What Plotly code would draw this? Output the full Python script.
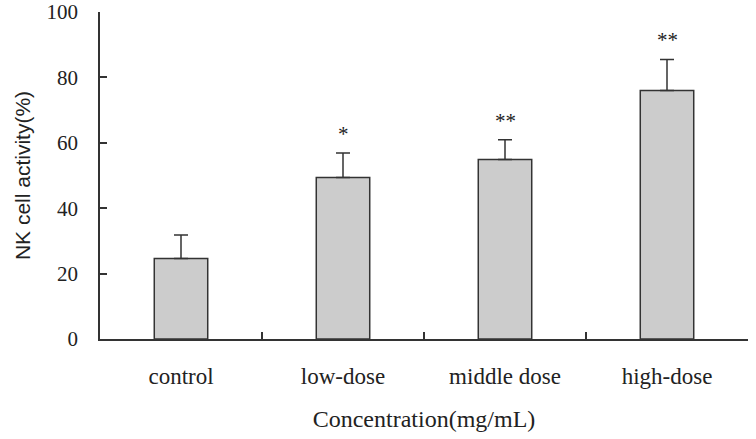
import plotly.graph_objects as go

categories = ["control", "low-dose", "middle dose", "high-dose"]
values = [24.6, 49.4, 54.9, 76.0]
errors = [7.2, 7.5, 6.0, 9.5]
stars = ["", "*", "**", "**"]
y_ticks = [0, 20, 40, 60, 80, 100]

serif = "Liberation Serif, Times New Roman, serif"
sans = "Liberation Sans, Arial, sans-serif"

fig = go.Figure()
fig.add_trace(go.Bar(
    x=categories,
    y=values,
    marker=dict(color="#cccccc", line=dict(color="#333333", width=1.5)),
    error_y=dict(type="data", symmetric=False, array=errors,
                 arrayminus=[0] * len(errors),
                 color="#333333", thickness=1.5, width=7),
    width=0.33,
))

for c, v, e, s in zip(categories, values, errors, stars):
    if s:
        fig.add_annotation(x=c, y=v + e, text=s, showarrow=False,
                           yanchor="bottom", yshift=5,
                           font=dict(family=serif, size=21, color="#222222"))

fig.update_layout(
    width=756, height=439,
    margin=dict(l=100, r=8, t=12, b=100),
    paper_bgcolor="white", plot_bgcolor="white",
    showlegend=False,
    font=dict(family=serif, size=21, color="#222222"),
    xaxis=dict(
        automargin=False,
        showline=True, linecolor="#333333", linewidth=1.5,
        ticks="inside", tickson="boundaries", ticklen=7,
        tickcolor="#333333", tickwidth=1.5,
        showgrid=False, zeroline=False,
        ticklabelstandoff=16,
        tickfont=dict(family=serif, size=23, color="#222222"),
        title=dict(text="Concentration(mg/mL)", standoff=22,
                   font=dict(family=serif, size=24, color="#222222")),
    ),
    yaxis=dict(
        automargin=False,
        range=[0, 100], tickvals=y_ticks,
        showline=True, linecolor="#333333", linewidth=1.5,
        ticks="inside", ticklen=7, tickcolor="#333333", tickwidth=1.5,
        showgrid=False, zeroline=False,
        ticklabelstandoff=16,
        tickfont=dict(family=serif, size=21, color="#222222"),
        title=dict(text="NK cell activity(%)", standoff=10,
                   font=dict(family=sans, size=21, color="#222222")),
    ),
)

fig.write_html("out.html", config={"displayModeBar": False},
               post_script="document.body.style.margin='0';")
